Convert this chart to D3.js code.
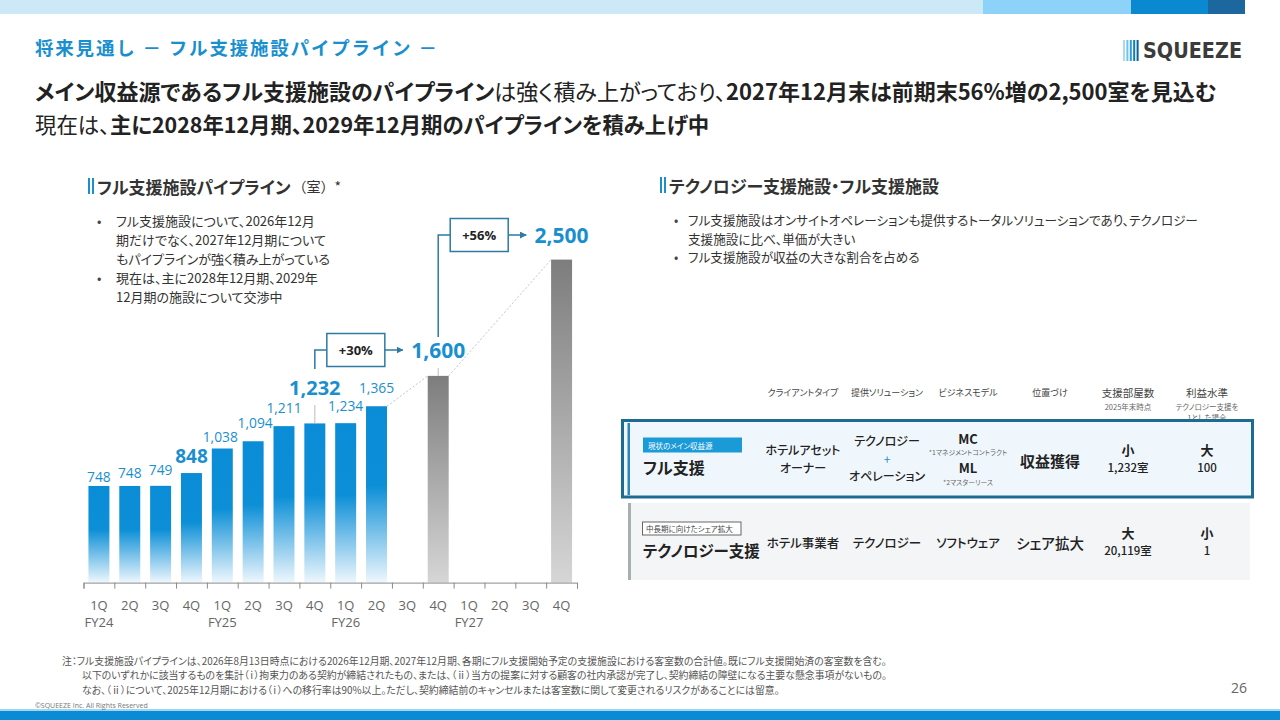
<!DOCTYPE html>
<html lang="ja">
<head>
<meta charset="utf-8">
<script src="https://cdn.jsdelivr.net/npm/d3@7"></script>
<style>
  body { margin: 0; background: #fff; }
  svg text { font-family: "Noto Sans CJK JP", "Noto Sans", sans-serif; font-feature-settings: "palt"; }
  .num { font-family: "Open Sans", "Noto Sans CJK JP", sans-serif !important; }
</style>
</head>
<body>
<svg id="slide" width="1280" height="720"></svg>
<script>
// ---- data ----
const quarters = ["1Q","2Q","3Q","4Q","1Q","2Q","3Q","4Q","1Q","2Q","3Q","4Q","1Q","2Q","3Q","4Q"];
const fiscalYears = ["FY24","FY25","FY26","FY27"];
const rooms = [748, 748, 749, 848, 1038, 1094, 1211, 1232, 1234, 1365, null, 1600, null, null, null, 2500];
const barType = ["actual","actual","actual","actual","actual","actual","actual","actual","actual","actual",
                 null,"forecast",null,null,null,"forecast"];
const boldLabels = [3, 7];          // 848, 1,232
const growth = [
  { from: 7, to: 11, label: "+30%" },
  { from: 11, to: 15, label: "+56%" }
];

const leftBullets = [
  ["フル支援施設について、2026年12月", "期だけでなく、2027年12月期について", "もパイプラインが強く積み上がっている"],
  ["現在は、主に2028年12月期、2029年", "12月期の施設について交渉中"]
];
const rightBullets = [
  ["フル支援施設はオンサイトオペレーションも提供するトータルソリューションであり、テクノロジー", "支援施設に比べ、単価が大きい"],
  ["フル支援施設が収益の大きな割合を占める"]
];

const tableHeaders = ["クライアントタイプ","提供ソリューション","ビジネスモデル","位置づけ","支援部屋数","利益水準"];
const tableSubHeaders = [[],[],[],[],["2025年末時点"],["テクノロジー支援を","1とした場合"]];

const footnotes = [
  "注：フル支援施設パイプラインは、2026年8月13日時点における2026年12月期、2027年12月期、各期にフル支援開始予定の支援施設における客室数の合計値。既にフル支援開始済の客室数を含む。",
  "以下のいずれかに該当するものを集計（ｉ）拘束力のある契約が締結されたもの、または、（ⅱ）当方の提案に対する顧客の社内承認が完了し、契約締結の障壁になる主要な懸念事項がないもの。",
  "なお、（ⅱ）について、2025年12月期における（ｉ）への移行率は90%以上。ただし、契約締結前のキャンセルまたは客室数に関して変更されるリスクがあることには留意。"
];

// label placement (layout only): gap above bar top, small horizontal nudges
const labelLift = [4, 7.5, 11, 9.7, 6.5, 13, 12.8, 0, 12, 13.4];
const labelDx = { 4: -2, 5: 2 };

// ---- colours ----
const labelBlue = "#1a8fcf";
const teal = "#2d7aa3";
const dark = "#222";

const svg = d3.select("#slide");
const defs = svg.append("defs");

// bar gradients
const gBlue = defs.append("linearGradient").attr("id", "gBlue").attr("x1", 0).attr("y1", 0).attr("x2", 0).attr("y2", 1);
gBlue.append("stop").attr("offset", "0%").attr("stop-color", "#0a8dd6");
gBlue.append("stop").attr("offset", "45%").attr("stop-color", "#0c8fd7");
gBlue.append("stop").attr("offset", "100%").attr("stop-color", "#eef7fd");
const gGray = defs.append("linearGradient").attr("id", "gGray").attr("x1", 0).attr("y1", 0).attr("x2", 0).attr("y2", 1);
gGray.append("stop").attr("offset", "0%").attr("stop-color", "#7d7d7d");
gGray.append("stop").attr("offset", "100%").attr("stop-color", "#d6d6d6");

defs.append("marker").attr("id", "arrow")
  .attr("viewBox", "0 0 10 10").attr("refX", 9).attr("refY", 5)
  .attr("markerWidth", 7).attr("markerHeight", 7).attr("markerUnits", "userSpaceOnUse")
  .attr("orient", "auto")
  .append("path").attr("d", "M0,0 L10,5 L0,10 Z").attr("fill", teal);

// ---- page frame ----
const band = [[0, 983, "#cde9f8"], [983, 1131, "#8dd3f9"], [1131, 1208, "#0a89d0"], [1208, 1245, "#1c679e"]];
svg.selectAll("rect.band").data(band).join("rect")
  .attr("class", "band")
  .attr("x", d => d[0]).attr("y", 0).attr("width", d => d[1] - d[0]).attr("height", 14)
  .attr("fill", d => d[2]);
svg.append("rect").attr("x", 0).attr("y", 709).attr("width", 1280).attr("height", 2).attr("fill", "#9fd6f3");
svg.append("rect").attr("x", 0).attr("y", 711).attr("width", 1280).attr("height", 9).attr("fill", "#0a8bd3");

// logo
const logoBars = ["#a9d9f3", "#6fc0ec", "#2b9ddd", "#0a7cc0", "#0c5f97"];
svg.selectAll("rect.logo").data(logoBars).join("rect")
  .attr("class", "logo")
  .attr("x", (d, i) => 1123 + i * 3.4).attr("y", 40).attr("width", 2).attr("height", 21)
  .attr("fill", d => d);
svg.append("text").attr("x", 1143).attr("y", 58)
  .attr("font-size", 21).attr("font-weight", 700).attr("fill", "#3b3b3b")
  .attr("textLength", 99).attr("lengthAdjust", "spacingAndGlyphs")
  .style("font-family", "'Liberation Sans Narrow', 'DejaVu Sans Condensed', sans-serif")
  .text("SQUEEZE");

// title
svg.append("text").attr("x", 35).attr("y", 55)
  .attr("font-size", 18.5).attr("font-weight", 700).attr("fill", labelBlue)
  .style("font-feature-settings", "normal").style("letter-spacing", "1.8px")
  .text("将来見通し － フル支援施設パイプライン －");

const h1 = svg.append("text").attr("x", 35).attr("y", 100).attr("font-size", 22).attr("fill", dark);
h1.append("tspan").attr("font-weight", 700).text("メイン収益源であるフル支援施設のパイプライン");
h1.append("tspan").attr("font-weight", 400).text("は強く積み上がっており、");
h1.append("tspan").attr("font-weight", 700).text("2027年12月末は前期末56%増の2,500室を見込む");
const h2 = svg.append("text").attr("x", 35).attr("y", 133).attr("font-size", 21.4).attr("fill", dark);
h2.append("tspan").attr("font-weight", 400).text("現在は、");
h2.append("tspan").attr("font-weight", 700).text("主に2028年12月期、2029年12月期のパイプラインを積み上げ中");

// section headings
const heading = (x, y, main, extra) => {
  svg.append("rect").attr("x", x).attr("y", y - 8).attr("width", 2).attr("height", 16).attr("fill", labelBlue);
  svg.append("rect").attr("x", x + 4).attr("y", y - 8).attr("width", 2).attr("height", 16).attr("fill", labelBlue);
  const t = svg.append("text").attr("x", x + 9).attr("y", y).attr("dominant-baseline", "central")
    .attr("font-size", 17).attr("fill", "#333");
  t.append("tspan").attr("font-weight", 700).text(main);
  if (extra) t.append("tspan").attr("font-size", 14).attr("font-weight", 400).attr("dx", 2)
    .style("font-feature-settings", "normal").text(extra);
};
heading(88, 186, "フル支援施設パイプライン", "（室）*");
heading(660, 185, "テクノロジー支援施設・フル支援施設");

// bullet lists: one text block per list, one tspan per line
const bullets = (items, bx, tx, y0, lh, fs) => {
  const marks = svg.append("text").attr("font-size", fs).attr("fill", "#444").attr("dominant-baseline", "central");
  const body = svg.append("text").attr("font-size", fs).attr("fill", "#333").attr("dominant-baseline", "central");
  let y = y0;
  items.forEach(lines => {
    marks.append("tspan").attr("x", bx).attr("y", y).text("•");
    lines.forEach(l => {
      body.append("tspan").attr("x", tx).attr("y", y).text(l);
      y += lh;
    });
  });
};
bullets(leftBullets, 97, 116, 220, 18.9, 13);
bullets(rightBullets, 674, 688, 219, 18.5, 12.6);

// ---- chart ----
const x = d3.scaleBand().domain(d3.range(quarters.length))
  .range([83.5, 577]).paddingInner(0.32).paddingOuter(0.16);
const y = d3.scaleLinear().domain([0, 2500]).range([582.6, 259.6]);
const edge = d3.scaleLinear().domain([0, quarters.length]).range([83.5, 577]);

const chart = svg.append("g");
const barData = rooms.map((v, i) => ({ i, v, type: barType[i] })).filter(d => d.v != null);

chart.selectAll("rect.bar").data(barData).join("rect")
  .attr("class", "bar")
  .attr("x", d => x(d.i)).attr("y", d => y(d.v))
  .attr("width", x.bandwidth()).attr("height", d => y(0) - y(d.v))
  .attr("fill", d => d.type === "actual" ? "url(#gBlue)" : "url(#gGray)");

// dotted connectors between last actual and forecasts
const conn = [[9, 11], [11, 15]];
chart.selectAll("line.conn").data(conn).join("line")
  .attr("class", "conn")
  .attr("x1", d => x(d[0]) + x.bandwidth()).attr("y1", d => y(rooms[d[0]]))
  .attr("x2", d => x(d[1])).attr("y2", d => y(rooms[d[1]]))
  .attr("stroke", "#c4c4c4").attr("stroke-width", 1).attr("stroke-dasharray", "2,2");

// axis
const axis = d3.axisBottom(edge).ticks(quarters.length).tickFormat("").tickSizeInner(6).tickSizeOuter(6);
const axisG = chart.append("g").attr("transform", `translate(0,${y(0)})`).call(axis);
axisG.select(".domain").attr("stroke", "#8a8a8a");
axisG.selectAll(".tick line").attr("stroke", "#8a8a8a");

chart.selectAll("text.q").data(quarters).join("text")
  .attr("class", "q num")
  .attr("x", (d, i) => x(i) + x.bandwidth() / 2).attr("y", 605)
  .attr("text-anchor", "middle").attr("dominant-baseline", "central")
  .attr("font-size", 13).attr("fill", "#666").text(d => d);
chart.selectAll("text.fy").data(fiscalYears).join("text")
  .attr("class", "fy num")
  .attr("x", (d, i) => x(i * 4) + x.bandwidth() / 2).attr("y", 622)
  .attr("text-anchor", "middle").attr("dominant-baseline", "central")
  .attr("font-size", 13).attr("fill", "#666").text(d => d);

// value labels
const fmt = d3.format(",");
const plain = barData.filter(d => d.type === "actual" && !boldLabels.includes(d.i));
chart.selectAll("text.val").data(plain).join("text")
  .attr("class", "val num")
  .attr("x", d => x(d.i) + x.bandwidth() / 2 + (labelDx[d.i] || 0))
  .attr("y", d => y(d.v) - labelLift[d.i])
  .attr("text-anchor", "middle").attr("font-size", 13.8).attr("fill", labelBlue)
  .text(d => fmt(d.v));

// 848
chart.append("text").attr("class", "num")
  .attr("x", x(3) + x.bandwidth() / 2).attr("y", y(rooms[3]) - labelLift[3])
  .attr("text-anchor", "middle").attr("font-size", 19).attr("font-weight", 700).attr("fill", labelBlue)
  .text(fmt(rooms[3]));
// 1,232 raised with leader
chart.append("text").attr("class", "num")
  .attr("x", x(7) + x.bandwidth() / 2).attr("y", 395)
  .attr("text-anchor", "middle").attr("font-size", 20).attr("font-weight", 700).attr("fill", labelBlue)
  .text(fmt(rooms[7]));
chart.append("line")
  .attr("x1", x(7) + x.bandwidth() / 2).attr("x2", x(7) + x.bandwidth() / 2)
  .attr("y1", 405).attr("y2", y(rooms[7]))
  .attr("stroke", "#bbb").attr("stroke-width", 1);

// growth call-outs
const labelY = { 11: 350, 15: 235 };
growth.forEach(g => {
  const fx = x(g.from) + x.bandwidth() / 2;
  const tx = x(g.to) + x.bandwidth() / 2;
  const ay = labelY[g.to];
  const bottom = g.from === 7 ? 369 : labelY[g.from] - 13;
  const bx = fx + 12, bw = 58, bh = 33;
  chart.append("path")
    .attr("d", `M${fx},${bottom} V${ay} H${bx}`)
    .attr("fill", "none").attr("stroke", teal).attr("stroke-width", 1.5);
  chart.append("rect").attr("x", bx).attr("y", ay - bh / 2).attr("width", bw).attr("height", bh)
    .attr("fill", "#fff").attr("stroke", teal).attr("stroke-width", 1.5);
  chart.append("text").attr("class", "num")
    .attr("x", bx + bw / 2).attr("y", ay).attr("text-anchor", "middle").attr("dominant-baseline", "central")
    .attr("font-size", 13).attr("font-weight", 700).attr("fill", "#222").text(g.label);
  chart.append("line").attr("x1", bx + bw).attr("x2", bx + bw + 18).attr("y1", ay).attr("y2", ay)
    .attr("stroke", teal).attr("stroke-width", 1.5).attr("marker-end", "url(#arrow)");
  chart.append("text").attr("class", "num")
    .attr("x", tx).attr("y", ay).attr("text-anchor", "middle").attr("dominant-baseline", "central")
    .attr("font-size", 21).attr("font-weight", 700).attr("fill", labelBlue).text(fmt(rooms[g.to]));
});
// leader under 1,600
chart.append("line")
  .attr("x1", x(11) + x.bandwidth() / 2).attr("x2", x(11) + x.bandwidth() / 2)
  .attr("y1", 368).attr("y2", y(rooms[11]))
  .attr("stroke", "#bbb").attr("stroke-width", 1);

// ---- comparison table ----
const colX = [803, 887, 968, 1050, 1128, 1207];
const tbl = svg.append("g");

// a table cell: one text block, one tspan per line [y, text, size, weight, colour]
const cell = (col, lines) => {
  const t = tbl.append("text").attr("text-anchor", "middle").attr("dominant-baseline", "central");
  lines.forEach(([yy, txt, fs, fw, fill]) => {
    t.append("tspan").attr("x", colX[col]).attr("y", yy)
      .attr("font-size", fs).attr("font-weight", fw || 500).attr("fill", fill || "#222").text(txt);
  });
};

tableHeaders.forEach((h, i) => {
  const lines = [[392, h, i >= 4 ? 10.5 : 9, 400, "#444"]];
  tableSubHeaders[i].forEach((s, k) => lines.push([406 + k * 11, s, 7.5, 400, "#666"]));
  cell(i, lines);
});

// full-support row
tbl.append("rect").attr("x", 622.5).attr("y", 420.5).attr("width", 630).attr("height", 76.5)
  .attr("fill", "#f0f7fc").attr("stroke", "#1d6a93").attr("stroke-width", 3);
tbl.append("rect").attr("x", 627.5).attr("y", 423).attr("width", 2.5).attr("height", 72).attr("fill", "#2c86b8");
tbl.append("rect").attr("x", 643).attr("y", 437.5).attr("width", 99).attr("height", 15).attr("fill", "#1b9ad8");
tbl.append("text").attr("x", 648).attr("y", 445).attr("dominant-baseline", "central")
  .attr("font-size", 7.5).attr("fill", "#fff").text("現状のメイン収益源");
tbl.append("text").attr("x", 643).attr("y", 467).attr("dominant-baseline", "central")
  .attr("font-size", 16).attr("font-weight", 700).attr("fill", "#222").text("フル支援");

// technology-support row
tbl.append("rect").attr("x", 628).attr("y", 503).attr("width", 622).attr("height", 77).attr("fill", "#f3f5f7");
tbl.append("rect").attr("x", 628).attr("y", 503).attr("width", 3).attr("height", 77).attr("fill", "#a9aeb3");
tbl.append("rect").attr("x", 642.5).attr("y", 522).attr("width", 98.5).attr("height", 13)
  .attr("fill", "#fff").attr("stroke", "#666").attr("stroke-width", 1);
tbl.append("text").attr("x", 646).attr("y", 528.5).attr("dominant-baseline", "central")
  .attr("font-size", 7.5).attr("fill", "#444").text("中長期に向けたシェア拡大");
tbl.append("text").attr("x", 643).attr("y", 549.5).attr("dominant-baseline", "central")
  .attr("font-size", 15.5).attr("font-weight", 700).attr("fill", "#222").text("テクノロジー支援");

cell(0, [[449, "ホテルアセット", 12], [467, "オーナー", 12]]);
cell(1, [[440, "テクノロジー", 12], [457.5, "+", 12, 400, labelBlue], [475, "オペレーション", 12]]);
cell(2, [[437.5, "MC", 13, 700], [451.8, "*1マネジメントコントラクト", 6.8, 400, "#666"],
         [467, "ML", 13, 700], [481.5, "*2マスターリース", 6.8, 400, "#666"]]);
cell(3, [[459.5, "収益獲得", 15, 700]]);
cell(4, [[449, "小", 13, 700], [467, "1,232室", 11.5]]);
cell(5, [[449, "大", 13, 700], [467, "100", 11.5]]);

cell(0, [[541.5, "ホテル事業者", 12.5]]);
cell(1, [[541.5, "テクノロジー", 12.5]]);
cell(2, [[541.5, "ソフトウェア", 12.5]]);
cell(3, [[541.5, "シェア拡大", 14.5]]);
cell(4, [[532, "大", 13, 700], [550, "20,119室", 11.5]]);
cell(5, [[532, "小", 13, 700], [550, "1", 11.5]]);

// ---- footer ----
const notes = svg.append("text").attr("dominant-baseline", "central").attr("font-size", 9.9).attr("fill", "#555");
footnotes.forEach((f, i) => {
  notes.append("tspan").attr("x", i === 0 ? 62 : 82).attr("y", 661 + i * 14.3).text(f);
});
svg.append("text").attr("x", 1231).attr("y", 687).attr("dominant-baseline", "central").attr("class", "num")
  .attr("font-size", 14).attr("fill", "#666").text("26");
svg.append("text").attr("x", 35).attr("y", 705).attr("dominant-baseline", "central").attr("class", "num")
  .attr("font-size", 7).attr("fill", "#777").text("©SQUEEZE Inc. All Rights Reserved");
</script>
</body>
</html>
